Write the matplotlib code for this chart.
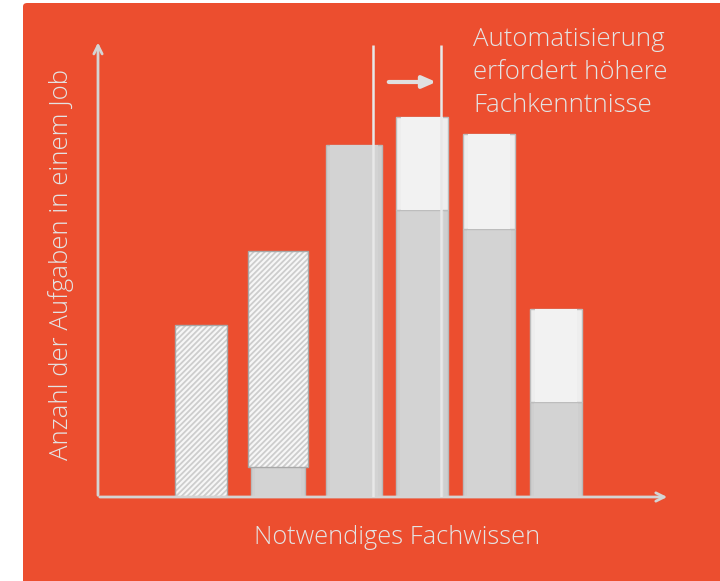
import numpy as np
import matplotlib
matplotlib.use('Agg')
import matplotlib.pyplot as plt
from matplotlib.patches import FancyBboxPatch

# Aufgaben pro Job je Stufe des Fachwissens
levels = ['1', '2', '3', '4', '5', '6']
automatable = [49, 61.5, 0, 0, 0, 0]      # schraffiert: wegfallende Aufgaben
remaining = [0, 8.5, 100, 81.5, 76, 27]   # grau: bestehende Aufgaben
new_tasks = [0, 0, 0, 26.5, 27, 26.5]     # hell: neue Aufgaben

title_lines = ['Automatisierung', 'erfordert höhere', 'Fachkenntnisse']
xlabel = 'Notwendiges Fachwissen'
ylabel = 'Anzahl der Aufgaben in einem Job'

# layout (axis units ~ pixels along x)
x_pos = [103, 180, 256, 324, 391, 458]
widths = [52, 60, 56, 52, 52, 52]
shift_lines = [275, 343]

plt.rcParams['font.family'] = ['Open Sans', 'DejaVu Sans']
plt.rcParams['hatch.linewidth'] = 1.3

RED = '#ec4e2f'
LIGHT = '#e4e4e4'

fig = plt.figure(figsize=(7.2, 5.81), dpi=100)
fig.patch.set_facecolor('white')

W, H = 720, 581
bg = FancyBboxPatch((23 / W, -0.05), 1.0, (H - 3) / H + 0.05,
                    boxstyle='round,pad=0,rounding_size=0.006',
                    transform=fig.transFigure, facecolor=RED,
                    edgecolor='none', zorder=-5)
fig.patches.append(bg)

ax = fig.add_axes([98 / W, (H - 497) / H, (668 - 98) / W, (497 - 45) / H])
ax.set_zorder(2)
ax.set_facecolor('none')
ax.set_xlim(0, 570)
ax.set_ylim(0, 452 / 3.52)
for s in ax.spines.values():
    s.set_visible(False)
ax.set_xticks([])
ax.set_yticks([])

auto = np.array(automatable)
rem = np.array(remaining)
new = np.array(new_tasks)

for i in range(len(levels)):
    x, w = x_pos[i], widths[i]
    if rem[i] > 0:
        bw = w if auto[i] == 0 else w - 6
        ax.bar(x, rem[i], width=bw, color='#cfcfcf', edgecolor='#b9b9b9',
               linewidth=1, zorder=3)
        ax.bar(x, rem[i], width=bw - 8, color='#d3d3d3', edgecolor='none',
               zorder=3)
    if auto[i] > 0:
        # feine Schraffur, Umriss separat
        ax.bar(x, auto[i], width=w, bottom=rem[i], color='#f7f7f7',
               edgecolor='#cdcdcd', linewidth=0, hatch='//////', zorder=3)
        ax.bar(x, auto[i], width=w, bottom=rem[i], color='none',
               edgecolor='#a8a8a8', linewidth=1, zorder=3)
    if new[i] > 0:
        ax.bar(x, new[i], width=w, bottom=rem[i], color='#eeeeee',
               edgecolor='#bdbdbd', linewidth=1, zorder=3)
        ax.bar(x, new[i], width=w - 10, bottom=rem[i], color='#f2f2f2',
               edgecolor='none', zorder=3)

top = ax.get_ylim()[1]
for xl in shift_lines:
    ax.plot([xl, xl], [0, top], color='#e8e8e8', lw=1.8, zorder=4,
            solid_capstyle='butt')

# Verschiebung nach rechts
y_arrow = (497 - 82) / 3.52
ax.annotate('', xy=(341, y_arrow), xytext=(288, y_arrow),
            arrowprops=dict(arrowstyle='-|>,head_length=0.8,head_width=0.35',
                            color='#e0e0e0', lw=3), zorder=5)

# Achsen mit Pfeilspitzen
ax.annotate('', xy=(572, 0), xytext=(-1, 0), annotation_clip=False,
            arrowprops=dict(arrowstyle='->,head_length=0.6,head_width=0.3',
                            color='#d4d4d4', lw=2))
ax.annotate('', xy=(0, top + 1.5), xytext=(0, -0.3), annotation_clip=False,
            arrowprops=dict(arrowstyle='->,head_length=0.6,head_width=0.3',
                            color='#d4d4d4', lw=2))

for k, line in enumerate(title_lines):
    fig.text(473 / W, 1 - (40 + 32.5 * k) / H, line, color=LIGHT,
             fontsize=18.5, fontweight='light', va='center', ha='left')

fig.text(397 / W, 1 - 537 / H, xlabel, color=LIGHT, fontsize=18.3,
         fontweight='light', ha='center', va='center')
fig.text(61 / W, 1 - 264 / H, ylabel, color=LIGHT, fontsize=18.5,
         fontweight='light', ha='center', va='center', rotation=90)

fig.savefig('out.png', dpi=100, facecolor='white')
